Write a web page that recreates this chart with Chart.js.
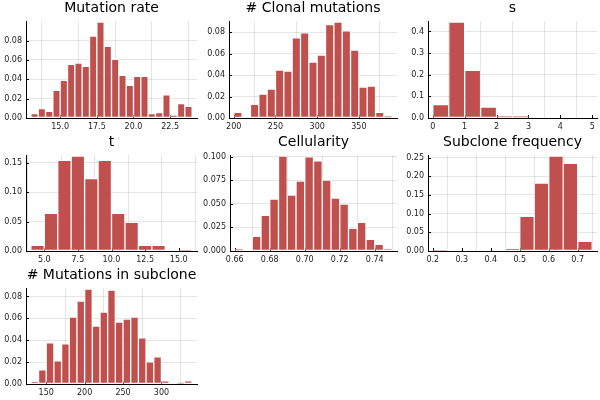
<!DOCTYPE html>
<html>
<head>
<meta charset="utf-8">
<script src="https://cdn.jsdelivr.net/npm/chart.js@4.4.1/dist/chart.umd.min.js"></script>
<style>
  html, body { margin: 0; padding: 0; background: #fff; }
  #wrap { position: relative; width: 600px; height: 400px; }
  #wrap canvas { position: absolute; left: 0; top: 0; }
</style>
</head>
<body>
<div id="wrap"></div>
<script>
// Histogram data: first bin edge, bin width, bar heights

// Mutation rate
const mutRateStart = 13.0, mutRateWidth = 0.5;
const mutRateValues = [0.0045, 0.0097, 0.007, 0.0286, 0.039, 0.0555, 0.0566, 0.0534, 0.0845, 0.099, 0.074,
    0.0607, 0.044, 0.0338, 0.043, 0.043, 0.0045, 0.0055, 0.024, 0.003, 0.015, 0.012];
const mutRateXTicks = ['15.0', '17.5', '20.0', '22.5'];
const mutRateYTicks = ['0.00', '0.02', '0.04', '0.06', '0.08'];

// # Clonal mutations
const clonalStart = 200, clonalWidth = 10;
const clonalValues = [0.0053, 0, 0.0128, 0.0222, 0.0269, 0.0447, 0.0438, 0.0747, 0.0794, 0.0522,
    0.0588, 0.0872, 0.0894, 0.0813, 0.0634, 0.0288, 0.0297, 0.0053, 0.0016];
const clonalXTicks = ['200', '250', '300', '350'];
const clonalYTicks = ['0.00', '0.02', '0.04', '0.06', '0.08'];

// s
const sStart = 0, sWidth = 0.5;
const sValues = [0.062, 0.443, 0.22, 0.05, 0.008, 0.008, 0, 0, 0, 0];
const sXTicks = ['0', '1', '2', '3', '4', '5'];
const sYTicks = ['0.0', '0.1', '0.2', '0.3', '0.4'];

// t
const tStart = 4, tWidth = 1;
const tValues = [0.0096, 0.064, 0.154, 0.161, 0.123, 0.154, 0.064, 0.0487, 0.0096, 0.0096, 0, 0.0017];
const tXTicks = ['5.0', '7.5', '10.0', '12.5', '15.0'];
const tYTicks = ['0.00', '0.05', '0.10', '0.15'];

// Cellularity
const cellStart = 0.66, cellWidth = 0.005;
const cellValues = [0.0018, 0, 0.0156, 0.0379, 0.055, 0.1005, 0.0592, 0.0741, 0.0997, 0.0954, 0.0752,
    0.056, 0.0496, 0.0241, 0.0305, 0.0124, 0.0071, 0.0021];
const cellXTicks = ['0.66', '0.68', '0.70', '0.72', '0.74'];
const cellYTicks = ['0.000', '0.025', '0.050', '0.075', '0.100'];

// Subclone frequency
const freqStart = 0.2, freqWidth = 0.05;
const freqValues = [0.0027, 0, 0, 0, 0, 0.007, 0.093, 0.182, 0.254, 0.235, 0.026];
const freqXTicks = ['0.2', '0.3', '0.4', '0.5', '0.6', '0.7'];
const freqYTicks = ['0.00', '0.05', '0.10', '0.15', '0.20', '0.25'];

// # Mutations in subclone
const subStart = 130, subWidth = 10;
const subValues = [0.0021, 0.013, 0.0376, 0.0212, 0.0367, 0.0612, 0.0758, 0.0867, 0.053, 0.0658, 0.0858,
    0.0567, 0.0594, 0.0612, 0.0421, 0.0203, 0.0248, 0.003, 0, 0.0012, 0.003];
const subXTicks = ['150', '200', '250', '300'];
const subYTicks = ['0.00', '0.02', '0.04', '0.06', '0.08'];

const FONT = 'DejaVu Sans';
const BAR_COLOR = '#c0504d';

// small tick marks pointing into the plot, drawn under the bars
const inwardTicks = {
    id: 'inwardTicks',
    beforeDatasetsDraw(chart) {
        const ctx = chart.ctx, a = chart.chartArea;
        ctx.save();
        ctx.strokeStyle = '#000';
        ctx.lineWidth = 1;
        ctx.beginPath();
        chart.scales.x.ticks.forEach(t => {
            const px = Math.round(chart.scales.x.getPixelForValue(t.value)) + 0.5;
            ctx.moveTo(px, a.bottom);
            ctx.lineTo(px, a.bottom - 3);
        });
        chart.scales.y.ticks.forEach(t => {
            const py = Math.round(chart.scales.y.getPixelForValue(t.value)) + 0.5;
            ctx.moveTo(a.left, py);
            ctx.lineTo(a.left + 3, py);
        });
        ctx.stroke();
        ctx.restore();
    }
};

// box = plot area [left, right, top, bottom] on the page
function makeHist(title, start, width, values, xTicks, yTicks, box) {
    const canvas = document.createElement('canvas');
    canvas.width = 600;
    canvas.height = 400;
    document.getElementById('wrap').appendChild(canvas);

    const points = values.map((v, i) => ({ x: start + (i + 0.5) * width, y: v }));
    const lo = start, hi = start + values.length * width;
    const pad = (hi - lo) * 0.03;
    const Y_W = 30, X_H = 14, TITLE_H = 20.8;

    new Chart(canvas.getContext('2d'), {
        type: 'bar',
        data: {
            datasets: [{
                data: points,
                backgroundColor: ctx => (ctx.raw && ctx.raw.y > 0 ? BAR_COLOR : 'rgba(0,0,0,0)'),
                borderColor: 'rgba(255,255,255,0.55)',
                borderWidth: ctx => (ctx.raw && ctx.raw.y > 0 ? 1 : 0),
                borderSkipped: false,
                barPercentage: 1,
                categoryPercentage: 1,
                grouped: false
            }]
        },
        plugins: [inwardTicks],
        options: {
            responsive: false,
            animation: false,
            devicePixelRatio: 1,
            layout: {
                padding: {
                    left: box[0] - Y_W,
                    right: 600 - box[1],
                    top: box[2] - TITLE_H,
                    bottom: 400 - box[3] - X_H
                }
            },
            plugins: {
                legend: { display: false },
                tooltip: { enabled: false },
                title: {
                    display: true,
                    text: title,
                    fullSize: false,
                    color: '#000',
                    font: { family: FONT, size: 14, weight: 'normal', lineHeight: 1.2 },
                    padding: { top: 0, bottom: 4 }
                }
            },
            scales: {
                x: {
                    type: 'linear',
                    offset: false,
                    min: lo - pad,
                    max: hi + pad,
                    afterBuildTicks: s => { s.ticks = xTicks.map(t => ({ value: parseFloat(t) })); },
                    afterFit: s => { s.height = X_H; },
                    ticks: {
                        autoSkip: false,
                        maxRotation: 0,
                        padding: 4,
                        color: '#222',
                        font: { family: FONT, size: 8 },
                        callback: (v, i) => xTicks[i]
                    },
                    grid: { color: 'rgba(0,0,0,0.1)', drawTicks: false },
                    border: { display: true, color: '#000', width: 1 }
                },
                y: {
                    min: 0,
                    max: Math.max(...values) * 1.012,
                    afterBuildTicks: s => { s.ticks = yTicks.map(t => ({ value: parseFloat(t) })); },
                    afterFit: s => { s.width = Y_W; },
                    ticks: {
                        autoSkip: false,
                        padding: 4,
                        color: '#222',
                        font: { family: FONT, size: 8 },
                        callback: (v, i) => yTicks[i]
                    },
                    grid: { color: 'rgba(0,0,0,0.1)', drawTicks: false },
                    border: { display: true, color: '#000', width: 1 }
                }
            }
        }
    });
}

makeHist('Mutation rate', mutRateStart, mutRateWidth, mutRateValues, mutRateXTicks, mutRateYTicks, [26, 197, 21, 118]);
makeHist('# Clonal mutations', clonalStart, clonalWidth, clonalValues, clonalXTicks, clonalYTicks, [229, 397, 21, 118]);
makeHist('s', sStart, sWidth, sValues, sXTicks, sYTicks, [428, 597, 21, 118]);
makeHist('t', tStart, tWidth, tValues, tXTicks, tYTicks, [26, 197, 155, 251]);
makeHist('Cellularity', cellStart, cellWidth, cellValues, cellXTicks, cellYTicks, [230, 397, 155, 251]);
makeHist('Subclone frequency', freqStart, freqWidth, freqValues, freqXTicks, freqYTicks, [428, 597, 155, 251]);
makeHist('# Mutations in subclone', subStart, subWidth, subValues, subXTicks, subYTicks, [26, 197, 288, 384]);
</script>
</body>
</html>
